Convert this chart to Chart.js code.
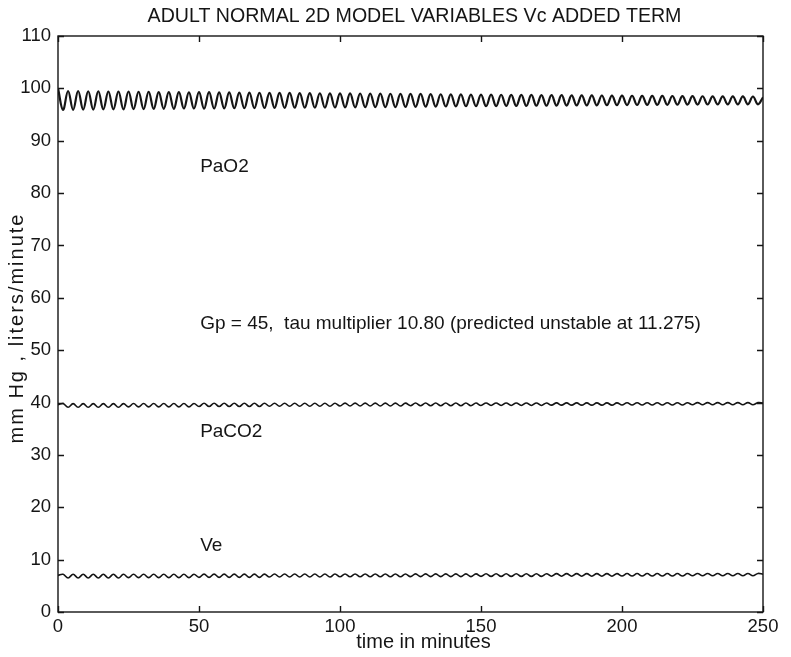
<!DOCTYPE html>
<html>
<head>
<meta charset="utf-8">
<script src="https://cdn.jsdelivr.net/npm/chart.js@4/dist/chart.umd.min.js"></script>
<style>
  html, body { margin: 0; padding: 0; background: #fff; }
  #wrap { width: 791px; height: 657px; }
</style>
</head>
<body>
<div id="wrap"><canvas id="c" width="791" height="657"></canvas></div>
<script>
// time samples (minutes): successive peaks and troughs of the oscillation
const timeMin = [
  0, 1.79, 3.57, 5.36, 7.14, 8.93, 10.71, 12.5, 14.29, 16.07, 17.86, 19.64, 21.43, 23.21,
  25, 26.79, 28.57, 30.36, 32.14, 33.93, 35.71, 37.5, 39.29, 41.07, 42.86, 44.64, 46.43, 48.21,
  50, 51.79, 53.57, 55.36, 57.14, 58.93, 60.71, 62.5, 64.29, 66.07, 67.86, 69.64, 71.43, 73.21,
  75, 76.79, 78.57, 80.36, 82.14, 83.93, 85.71, 87.5, 89.29, 91.07, 92.86, 94.64, 96.43, 98.21,
  100, 101.79, 103.57, 105.36, 107.14, 108.93, 110.71, 112.5, 114.29, 116.07, 117.86, 119.64, 121.43, 123.21,
  125, 126.79, 128.57, 130.36, 132.14, 133.93, 135.71, 137.5, 139.29, 141.07, 142.86, 144.64, 146.43, 148.21,
  150, 151.79, 153.57, 155.36, 157.14, 158.93, 160.71, 162.5, 164.29, 166.07, 167.86, 169.64, 171.43, 173.21,
  175, 176.79, 178.57, 180.36, 182.14, 183.93, 185.71, 187.5, 189.29, 191.07, 192.86, 194.64, 196.43, 198.21,
  200, 201.79, 203.57, 205.36, 207.14, 208.93, 210.71, 212.5, 214.29, 216.07, 217.86, 219.64, 221.43, 223.21,
  225, 226.79, 228.57, 230.36, 232.14, 233.93, 235.71, 237.5, 239.29, 241.07, 242.86, 244.64, 246.43, 248.21,
  250
];

// arterial O2 tension, mm Hg
const paO2 = [
  100.0, 95.9, 99.5, 95.9, 99.5, 95.95, 99.45, 95.95, 99.45, 96.0, 99.4, 96.0, 99.4, 96.0,
  99.4, 96.05, 99.35, 96.05, 99.35, 96.1, 99.3, 96.1, 99.3, 96.1, 99.3, 96.15, 99.25, 96.15,
  99.3, 96.12, 99.27, 96.15, 99.25, 96.17, 99.22, 96.2, 99.2, 96.22, 99.18, 96.23, 99.16, 96.25,
  99.15, 96.27, 99.13, 96.28, 99.12, 96.3, 99.1, 96.31, 99.08, 96.32, 99.07, 96.33, 99.06, 96.35,
  99.05, 96.37, 99.03, 96.38, 99.02, 96.4, 99.0, 96.41, 98.98, 96.42, 98.97, 96.43, 98.96, 96.45,
  98.95, 96.47, 98.93, 96.5, 98.9, 96.52, 98.88, 96.54, 98.86, 96.56, 98.84, 96.58, 98.82, 96.6,
  98.8, 96.61, 98.79, 96.62, 98.78, 96.64, 98.76, 96.65, 98.75, 96.66, 98.74, 96.68, 98.72, 96.69,
  98.7, 96.71, 98.69, 96.72, 98.68, 96.74, 98.66, 96.75, 98.65, 96.76, 98.64, 96.78, 98.62, 96.79,
  98.6, 96.81, 98.59, 96.82, 98.58, 96.84, 98.56, 96.85, 98.55, 96.86, 98.54, 96.88, 98.52, 96.89,
  98.5, 96.91, 98.49, 96.92, 98.48, 96.93, 98.47, 96.94, 98.46, 96.94, 98.46, 96.95, 98.45, 96.95,
  98.3
];

// arterial CO2 tension, mm Hg
const paCO2 = [
  39.6, 39.80, 39.10, 39.80, 39.10, 39.80, 39.10, 39.80, 39.10, 39.80, 39.10, 39.80, 39.10, 39.80,
  39.17, 39.83, 39.17, 39.83, 39.17, 39.83, 39.17, 39.83, 39.17, 39.83, 39.17, 39.83, 39.17, 39.83,
  39.24, 39.86, 39.24, 39.86, 39.24, 39.86, 39.24, 39.86, 39.24, 39.86, 39.24, 39.86, 39.24, 39.86,
  39.29, 39.87, 39.29, 39.87, 39.29, 39.87, 39.29, 39.87, 39.29, 39.87, 39.29, 39.87, 39.29, 39.87,
  39.35, 39.89, 39.35, 39.89, 39.35, 39.89, 39.35, 39.89, 39.35, 39.89, 39.35, 39.89, 39.35, 39.89,
  39.40, 39.90, 39.40, 39.90, 39.40, 39.90, 39.40, 39.90, 39.40, 39.90, 39.40, 39.90, 39.40, 39.90,
  39.44, 39.92, 39.44, 39.92, 39.44, 39.92, 39.44, 39.92, 39.44, 39.92, 39.44, 39.92, 39.44, 39.92,
  39.50, 39.94, 39.50, 39.94, 39.50, 39.94, 39.50, 39.94, 39.50, 39.94, 39.50, 39.94, 39.50, 39.94,
  39.54, 39.96, 39.54, 39.96, 39.54, 39.96, 39.54, 39.96, 39.54, 39.96, 39.54, 39.96, 39.54, 39.96,
  39.58, 39.98, 39.58, 39.98, 39.58, 39.98, 39.58, 39.98, 39.58, 39.98, 39.58, 39.98, 39.58, 39.98,
  39.9
];

// expired ventilation, liters/minute
const ve = [
  7.0, 7.20, 6.50, 7.20, 6.50, 7.20, 6.50, 7.20, 6.50, 7.20, 6.50, 7.20, 6.50, 7.20,
  6.56, 7.22, 6.56, 7.22, 6.56, 7.22, 6.56, 7.22, 6.56, 7.22, 6.56, 7.22, 6.56, 7.22,
  6.62, 7.24, 6.62, 7.24, 6.62, 7.24, 6.62, 7.24, 6.62, 7.24, 6.62, 7.24, 6.62, 7.24,
  6.67, 7.25, 6.67, 7.25, 6.67, 7.25, 6.67, 7.25, 6.67, 7.25, 6.67, 7.25, 6.67, 7.25,
  6.72, 7.26, 6.72, 7.26, 6.72, 7.26, 6.72, 7.26, 6.72, 7.26, 6.72, 7.26, 6.72, 7.26,
  6.76, 7.28, 6.76, 7.28, 6.76, 7.28, 6.76, 7.28, 6.76, 7.28, 6.76, 7.28, 6.76, 7.28,
  6.80, 7.30, 6.80, 7.30, 6.80, 7.30, 6.80, 7.30, 6.80, 7.30, 6.80, 7.30, 6.80, 7.30,
  6.84, 7.32, 6.84, 7.32, 6.84, 7.32, 6.84, 7.32, 6.84, 7.32, 6.84, 7.32, 6.84, 7.32,
  6.88, 7.34, 6.88, 7.34, 6.88, 7.34, 6.88, 7.34, 6.88, 7.34, 6.88, 7.34, 6.88, 7.34,
  6.92, 7.36, 6.92, 7.36, 6.92, 7.36, 6.92, 7.36, 6.92, 7.36, 6.92, 7.36, 6.92, 7.36,
  7.2
];

// axis ranges and tick spacing
const xTicks = [0, 50, 100, 150, 200, 250];
const yTicks = [0, 10, 20, 30, 40, 50, 60, 70, 80, 90, 100, 110];

const titleText = 'ADULT NORMAL 2D MODEL VARIABLES Vc ADDED TERM';
const xTitle = 'time in minutes';
const yTitle = 'mm Hg , liters/minute';

// in-plot annotations: [text, time, value]
const notes = [
  ['PaO2', 50.4, 84.0],
  ['Gp = 45,  tau multiplier 10.80 (predicted unstable at 11.275)', 50.4, 54.0],
  ['PaCO2', 50.4, 33.4],
  ['Ve', 50.4, 11.6]
];

const FONT = '"Liberation Sans", Arial, Helvetica, sans-serif';
const INK = '#151515';

function series(values) {
  return values.map((v, i) => ({ x: timeMin[i], y: v }));
}

// boxed axes with inward ticks on all four sides, plus titles and notes
const framePlugin = {
  id: 'frame',
  afterDraw(chart) {
    const { ctx, chartArea: a, scales } = chart;
    const xs = scales.x, ys = scales.y;
    const tl = 6;
    ctx.save();
    ctx.strokeStyle = INK;
    ctx.lineWidth = 1.4;
    ctx.strokeRect(a.left, a.top, a.right - a.left, a.bottom - a.top);
    ctx.beginPath();
    yTicks.forEach(v => {
      const p = Math.round(ys.getPixelForValue(v)) + 0.5;
      ctx.moveTo(a.left, p); ctx.lineTo(a.left + tl, p);
      ctx.moveTo(a.right - tl, p); ctx.lineTo(a.right, p);
    });
    xTicks.forEach(v => {
      const p = Math.round(xs.getPixelForValue(v)) + 0.5;
      ctx.moveTo(p, a.bottom); ctx.lineTo(p, a.bottom - tl);
      ctx.moveTo(p, a.top); ctx.lineTo(p, a.top + tl);
    });
    ctx.stroke();

    ctx.fillStyle = INK;
    ctx.textAlign = 'center';
    ctx.textBaseline = 'alphabetic';
    ctx.font = '19.6px ' + FONT;
    ctx.fillText(titleText, (a.left + a.right) / 2 + 4, 22);
    ctx.font = '20px ' + FONT;
    ctx.fillText(xTitle, (a.left + a.right) / 2 + 13, 648);

    ctx.save();
    ctx.translate(23, (a.top + a.bottom) / 2 + 4);
    ctx.rotate(-Math.PI / 2);
    ctx.letterSpacing = '2px';
    ctx.fillText(yTitle, 0, 0);
    ctx.restore();

    ctx.font = '19px ' + FONT;
    ctx.textAlign = 'left';
    notes.forEach(([t, x, y]) => {
      ctx.fillText(t, xs.getPixelForValue(x), ys.getPixelForValue(y));
    });
    ctx.restore();
  }
};

new Chart(document.getElementById('c'), {
  type: 'line',
  data: {
    datasets: [
      { label: 'PaO2', data: series(paO2), borderWidth: 2.2 },
      { label: 'PaCO2', data: series(paCO2), borderWidth: 1.6 },
      { label: 'Ve', data: series(ve), borderWidth: 1.6 }
    ]
  },
  options: {
    responsive: false,
    animation: false,
    devicePixelRatio: 1,
    layout: { padding: { top: 36, right: 28, left: 0, bottom: 0 } },
    elements: {
      line: { borderColor: INK, tension: 0.4, fill: false },
      point: { radius: 0, hoverRadius: 0 }
    },
    plugins: {
      legend: { display: false },
      tooltip: { enabled: false },
      title: { display: false }
    },
    scales: {
      x: {
        type: 'linear',
        min: 0, max: 250,
        afterBuildTicks: s => { s.ticks = xTicks.map(v => ({ value: v })); },
        afterFit: s => { s.height = 45; },
        grid: { display: false, drawTicks: false, tickLength: 0 },
        border: { display: false },
        ticks: { color: INK, padding: 4, maxRotation: 0, font: { size: 18.5, family: FONT } }
      },
      y: {
        type: 'linear',
        min: 0, max: 110,
        afterBuildTicks: s => { s.ticks = yTicks.map(v => ({ value: v })); },
        afterFit: s => { s.width = 58; },
        grid: { display: false, drawTicks: false, tickLength: 0 },
        border: { display: false },
        ticks: { color: INK, padding: 7, font: { size: 18.5, family: FONT } }
      }
    }
  },
  plugins: [framePlugin]
});
</script>
</body>
</html>
